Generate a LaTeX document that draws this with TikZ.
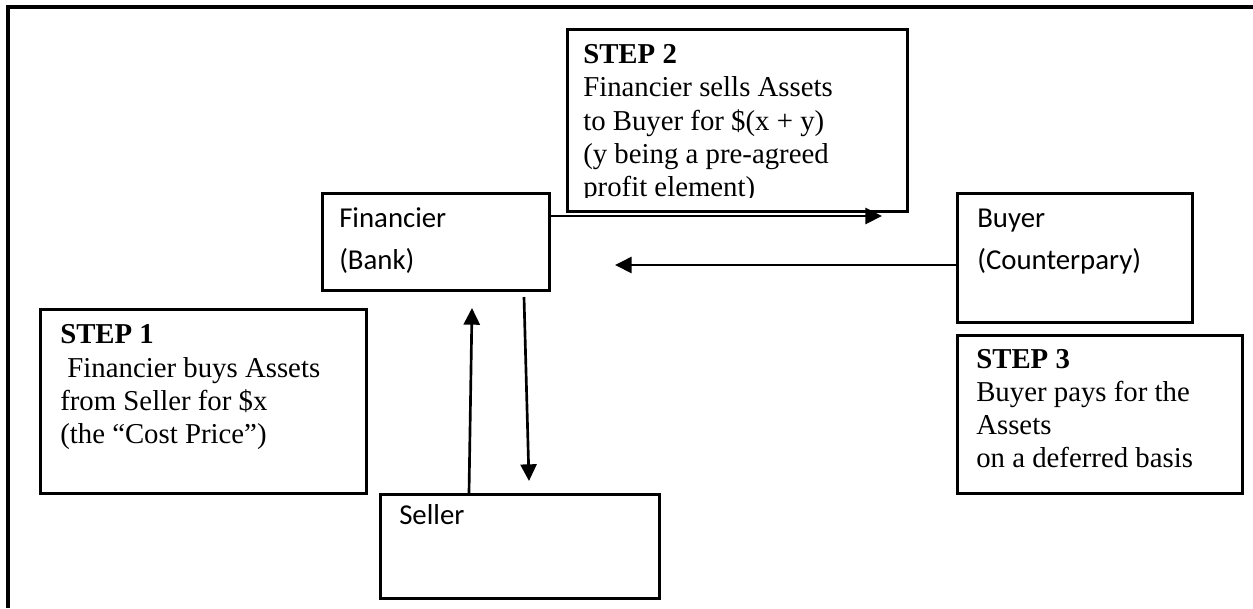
\documentclass[tikz,border=0pt]{standalone}
\usepackage{fontspec}
\setmainfont{Liberation Serif}
\newfontfamily\calfont{Carlito}
\usetikzlibrary{arrows.meta}
\tikzset{
  box/.style={draw, line width=2pt, minimum width=0pt, minimum height=0pt, inner sep=0pt},
  serif/.style={anchor=base west, inner sep=0pt, font=\fontsize{21.6}{24.75}\selectfont},
  sans/.style={anchor=base west, inner sep=0pt, font=\calfont\fontsize{21.6}{24}\selectfont},
  arr/.style={line width=2pt, -{Triangle[length=12.5pt, width=12pt]}},
  frame/.style={line width=2.4pt}
}
\begin{document}
\begin{tikzpicture}[x=0.75pt,y=-0.75pt]
\useasboundingbox (0,0) rectangle (1253,608);
% outer frame (top and left only)
\draw[frame] (1253,7) -- (8,7) -- (8,608);
% boxes
\node[box, anchor=north west, minimum width=340*0.75pt, minimum height=182*0.75pt] (s2) at (566,28) {};
\node[box, anchor=north west, minimum width=227*0.75pt, minimum height=97*0.75pt] (fin) at (321,192) {};
\node[box, anchor=north west, minimum width=235*0.75pt, minimum height=129*0.75pt] (buy) at (956,192) {};
\node[box, anchor=north west, minimum width=326*0.75pt, minimum height=184*0.75pt] (s1) at (39,308) {};
\node[box, anchor=north west, minimum width=285*0.75pt, minimum height=158*0.75pt] (s3) at (956,334) {};
\node[box, anchor=north west, minimum width=279*0.75pt, minimum height=104*0.75pt] (sel) at (379,493) {};
% STEP 2 text (clipped at the bottom)
\begin{scope}
\clip (566,28) rectangle (906,197);
\node[serif] (t2a) at (583,63) {\textbf{STEP 2}};
\node[serif] (t2b) at (583,96) {Financier sells Assets};
\node[serif] (t2c) at (583,130) {to Buyer for \$(x + y)};
\node[serif] (t2d) at (583,163) {(y being a pre-agreed};
\node[serif] (t2e) at (583,196) {profit element)};
\end{scope}
% STEP 1 text
\node[serif] (t1a) at (60,343) {\textbf{STEP 1}};
\node[serif] (t1b) at (60,377) {\ Financier buys Assets};
\node[serif] (t1c) at (60,410) {from Seller for \$x};
\node[serif] (t1d) at (60,443) {(the “Cost Price”)};
% STEP 3 text
\node[serif] (t3a) at (976,368) {\textbf{STEP 3}};
\node[serif] (t3b) at (976,401) {Buyer pays for the};
\node[serif] (t3c) at (976,434) {Assets};
\node[serif] (t3d) at (976,467) {on a deferred basis};
% entity labels
\node[sans] (fa) at (339,227) {Financier};
\node[sans] (fb) at (339,269) {(Bank)};
\node[sans] (ba) at (977,227) {Buyer};
\node[sans] (bb) at (977,269) {(Counterpary)};
\node[sans] (sa) at (399,524) {Seller};
% arrows
\coordinate (e1) at (882,216);
\draw[arr] (fin.east |- e1) -- (e1);
\coordinate (e2) at (615,265);
\draw[arr] (buy.west |- e2) -- (e2);
\coordinate (e3) at (472,308);
\draw[arr] (sel.north -| 469,0) -- (e3);
\coordinate (b4) at (524,297);
\coordinate (e4) at (529,481);
\draw[arr] (b4) -- (e4);
\end{tikzpicture}
\end{document}
